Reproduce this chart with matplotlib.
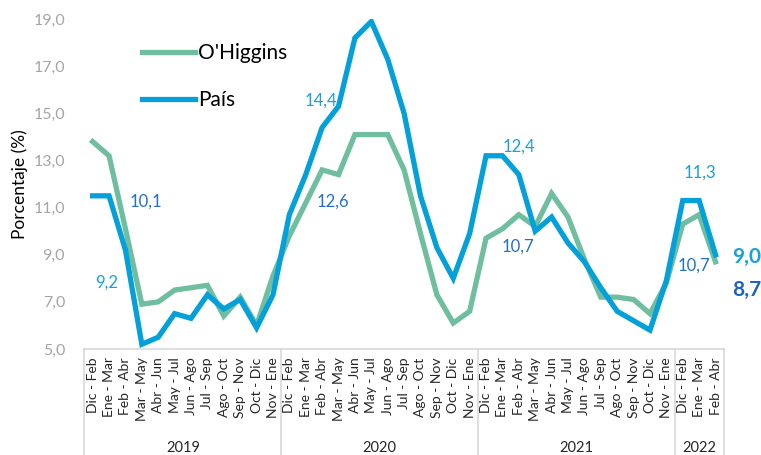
import matplotlib
matplotlib.use("Agg")
import matplotlib.pyplot as plt
import matplotlib.transforms as mtransforms
from matplotlib.lines import Line2D

plt.rcParams['font.family'] = ['Lato', 'DejaVu Sans']

periods = ["Dic - Feb", "Ene - Mar", "Feb - Abr", "Mar - May", "Abr - Jun", "May - Jul",
           "Jun - Ago", "Jul - Sep", "Ago - Oct", "Sep - Nov", "Oct - Dic", "Nov - Ene"]
years = ["2019", "2020", "2021", "2022"]
year_counts = [12, 12, 12, 3]
categories = periods * 3 + periods[:3]

ohiggins = [13.8, 13.2, 10.1, 6.9, 7.0, 7.5, 7.6, 7.7, 6.4, 7.2, 6.0, 8.1,
            9.8, 11.2, 12.6, 12.4, 14.1, 14.1, 14.1, 12.6, 9.9, 7.3, 6.1, 6.6,
            9.7, 10.1, 10.7, 10.2, 11.6, 10.6, 8.8, 7.2, 7.2, 7.1, 6.5, 7.8,
            10.3, 10.7, 8.7]
pais = [11.5, 11.5, 9.2, 5.2, 5.5, 6.5, 6.3, 7.3, 6.7, 7.1, 5.9, 7.3,
        10.7, 12.4, 14.4, 15.3, 18.2, 18.9, 17.3, 15.0, 11.5, 9.3, 8.0, 9.9,
        13.2, 13.2, 12.4, 10.0, 10.6, 9.5, 8.7, 7.6, 6.6, 6.2, 5.8, 7.9,
        11.3, 11.3, 9.0]

# annotations: (text, x position in category units, y value, color, bold, size)
annotations = [
    ("10,1", 3.24, 11.24, "#2470C8", False, 12),
    ("9,2", 0.86, 7.8, "#1AA0DD", False, 12),
    ("14,4", 13.93, 15.56, "#1AA0DD", False, 12),
    ("12,6", 14.66, 11.24, "#2470C8", False, 12),
    ("12,4", 26.02, 13.57, "#1AA0DD", False, 12),
    ("10,7", 25.96, 9.33, "#2470C8", False, 12),
    ("11,3", 37.02, 12.47, "#1AA0DD", False, 12),
    ("10,7", 36.71, 8.52, "#2470C8", False, 12),
    ("9,0", 39.89, 8.9, "#1AA0DD", True, 15),
    ("8,7", 39.89, 7.5, "#1A63C2", True, 15),
]

green = "#6FBE9F"
blue = "#03A0DA"

fig = plt.figure(figsize=(7.61, 4.55), dpi=100)
ax = fig.add_axes([0.111, 0.233, 0.840, 0.725])

x = list(range(len(categories)))
ax.plot(x, ohiggins, color=green, lw=3.8, solid_joinstyle='miter', label="O'Higgins", zorder=3)
ax.plot(x, pais, color=blue, lw=3.8, solid_joinstyle='miter', label="País", zorder=4)

ax.set_xlim(-0.5, len(categories) - 0.5)
ax.set_ylim(5, 19)
yt = [5, 7, 9, 11, 13, 15, 17, 19]
ax.set_yticks(yt)
ax.set_yticklabels([f"{v:.1f}".replace(".", ",") for v in yt], color="#A6A6A6", fontsize=11.5)
ax.set_xticks(x)
ax.set_xticklabels(categories, rotation=90, fontsize=10, color="#262626")
ax.tick_params(axis='both', length=0)
ax.tick_params(axis='x', pad=6)
ax.tick_params(axis='y', pad=14)

for s in ['top', 'right', 'left']:
    ax.spines[s].set_visible(False)
ax.spines['bottom'].set_color("#D9D9D9")
ax.spines['bottom'].set_linewidth(1.2)

ax.set_ylabel("Porcentaje (%)", fontsize=12.5, color="#000000", labelpad=4)

# multi-level category axis box
trans = mtransforms.blended_transform_factory(ax.transData, ax.transAxes)
bottom = -0.33
bounds = [-0.5]
acc = -0.5
for c in year_counts:
    acc += c
    bounds.append(acc)
for b in bounds:
    ax.add_line(Line2D([b, b], [0, bottom], transform=trans, color="#D9D9D9",
                       lw=1.2, clip_on=False))
start = -0.5
for yname, c in zip(years, year_counts):
    ax.text(start + c / 2, -0.30, yname, transform=trans, ha='center', va='center',
            fontsize=10.5, color="#262626")
    start += c

for txt, xi, yi, col, bold, sz in annotations:
    ax.text(xi, yi, txt, color=col, fontsize=sz, ha='center', va='center',
            fontweight='bold' if bold else 'normal', clip_on=False)

leg = ax.legend(loc='upper left', bbox_to_anchor=(0.06, 0.985), frameon=False,
                fontsize=15, handlelength=2.55, handletextpad=0.15, labelspacing=1.3)
for t in leg.get_texts():
    t.set_color("#000000")

fig.savefig("out.png", dpi=100)
